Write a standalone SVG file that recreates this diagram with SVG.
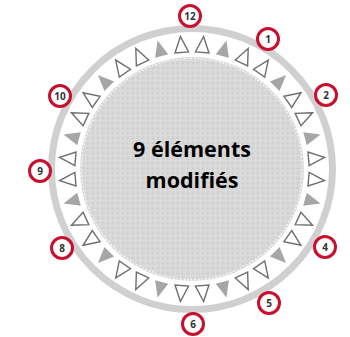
<svg xmlns="http://www.w3.org/2000/svg" width="350" height="337" viewBox="0 0 350 337">
<defs>
<pattern id="tex" width="5" height="5" patternUnits="userSpaceOnUse">
<rect width="5" height="5" fill="#d5d5d5"/>
<path d="M0 0.5H5M0.5 0V5" stroke="#dddddd" stroke-width="1"/>
<rect x="2" y="3" width="1" height="1" fill="#cbcbcb"/>
</pattern>
<polygon id="tri" points="0,-133 -6.8,-117 6.8,-117"/>
</defs>
<style>
.o{fill:#fff;stroke:#6e6e6e;stroke-width:1.4}
.f{fill:#a6a6a6}
.m circle{fill:#fff;stroke:#c8102e;stroke-width:3}
.m text{font-family:"Open Sans","DejaVu Sans",sans-serif;font-weight:bold;font-size:10px;fill:#333;text-anchor:middle}
.lbl{font-family:"Open Sans","DejaVu Sans",sans-serif;font-weight:bold;font-size:21.5px;fill:#000;text-anchor:middle}
</style>
<rect width="350" height="337" fill="#fff"/>
<g id="dial">
<circle cx="192" cy="169" r="140.5" fill="none" stroke="#d0d0d0" stroke-width="7"/>
<circle cx="192" cy="169" r="112" fill="url(#tex)"/>
<circle cx="192" cy="169" r="110.5" fill="none" stroke="#f4f4f4" stroke-width="1.4" stroke-dasharray="2 1.6"/>
</g>
<g id="triangles" transform="translate(192,169)">
<use href="#tri" class="o" transform="rotate(5)"/>
<use href="#tri" class="f" transform="rotate(15)"/>
<use href="#tri" class="o" transform="rotate(25)"/>
<use href="#tri" class="o" transform="rotate(35)"/>
<use href="#tri" class="f" transform="rotate(45)"/>
<use href="#tri" class="o" transform="rotate(55)"/>
<use href="#tri" class="o" transform="rotate(65)"/>
<use href="#tri" class="f" transform="rotate(75)"/>
<use href="#tri" class="o" transform="rotate(85)"/>
<use href="#tri" class="o" transform="rotate(95)"/>
<use href="#tri" class="f" transform="rotate(105)"/>
<use href="#tri" class="o" transform="rotate(115)"/>
<use href="#tri" class="o" transform="rotate(125)"/>
<use href="#tri" class="f" transform="rotate(135)"/>
<use href="#tri" class="o" transform="rotate(145)"/>
<use href="#tri" class="o" transform="rotate(155)"/>
<use href="#tri" class="f" transform="rotate(165)"/>
<use href="#tri" class="o" transform="rotate(175)"/>
<use href="#tri" class="o" transform="rotate(185)"/>
<use href="#tri" class="f" transform="rotate(195)"/>
<use href="#tri" class="o" transform="rotate(205)"/>
<use href="#tri" class="o" transform="rotate(215)"/>
<use href="#tri" class="f" transform="rotate(225)"/>
<use href="#tri" class="o" transform="rotate(235)"/>
<use href="#tri" class="o" transform="rotate(245)"/>
<use href="#tri" class="f" transform="rotate(255)"/>
<use href="#tri" class="o" transform="rotate(265)"/>
<use href="#tri" class="o" transform="rotate(275)"/>
<use href="#tri" class="f" transform="rotate(285)"/>
<use href="#tri" class="o" transform="rotate(295)"/>
<use href="#tri" class="o" transform="rotate(305)"/>
<use href="#tri" class="f" transform="rotate(315)"/>
<use href="#tri" class="o" transform="rotate(325)"/>
<use href="#tri" class="o" transform="rotate(335)"/>
<use href="#tri" class="f" transform="rotate(345)"/>
<use href="#tri" class="o" transform="rotate(355)"/>
</g>
<g id="label">
<text class="lbl" x="192" y="157">9 éléments</text>
<text class="lbl" x="192" y="188">modifiés</text>
</g>
<g id="m12" class="m"><circle cx="190" cy="16" r="10.5"/><text x="190" y="19.5">12</text></g>
<g id="m1" class="m"><circle cx="268" cy="39" r="10.5"/><text x="268" y="42.5">1</text></g>
<g id="m2" class="m"><circle cx="326" cy="95" r="10.5"/><text x="326" y="98.5">2</text></g>
<g id="m4" class="m"><circle cx="325" cy="247" r="10.5"/><text x="325" y="250.5">4</text></g>
<g id="m5" class="m"><circle cx="269" cy="303" r="10.5"/><text x="269" y="306.5">5</text></g>
<g id="m6" class="m"><circle cx="193" cy="324" r="10.5"/><text x="193" y="327.5">6</text></g>
<g id="m8" class="m"><circle cx="62" cy="248" r="10.5"/><text x="62" y="251.5">8</text></g>
<g id="m9" class="m"><circle cx="40" cy="171" r="10.5"/><text x="40" y="174.5">9</text></g>
<g id="m10" class="m"><circle cx="60" cy="96" r="10.5"/><text x="60" y="99.5">10</text></g>
</svg>
